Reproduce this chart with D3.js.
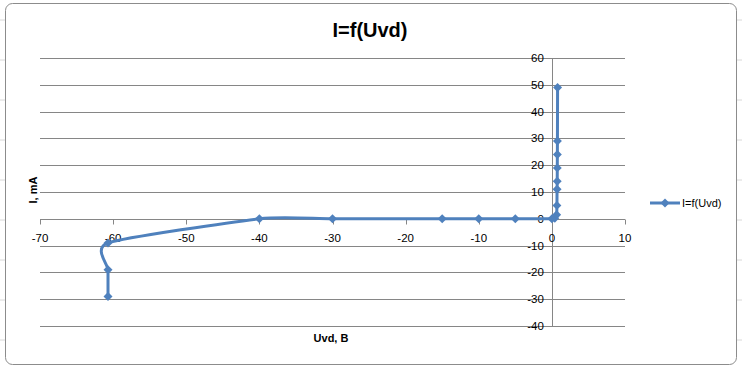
<!DOCTYPE html>
<html>
<head>
<meta charset="utf-8">
<script src="https://cdn.jsdelivr.net/npm/d3@7"></script>
<style>
  body { margin: 0; background: #fff; }
  text { font-family: "Liberation Sans", Arial, sans-serif; }
</style>
</head>
<body>
<div id="chart"></div>
<script>
// data (Uvd in B, I in mA), in series order
const uvd = [0.78, 0.76, 0.75, 0.74, 0.73, 0.71, 0.69, 0.65, 0.4, 0, -5, -10, -15, -30, -40, -60.7, -60.7, -60.7];
const current = [49, 29, 24, 19, 14, 11, 5, 1.5, 0.2, 0, 0, 0, 0, 0, 0, -9, -19, -29];
const xTicks = [-70, -60, -50, -40, -30, -20, -10, 0, 10];
const yTicks = [60, 50, 40, 30, 20, 10, 0, -10, -20, -30, -40];
const seriesName = 'I=f(Uvd)';

const width = 742;
const height = 367;
const blue = '#4F81BD';
const gridColor = '#868686';

const svg = d3.select('#chart')
  .append('svg')
  .attr('width', width)
  .attr('height', height);

// worksheet behind the chart
svg.append('rect')
  .attr('width', width).attr('height', height)
  .attr('fill', '#fff');
[0, 737].forEach(x0 => {
  [20, 60, 100, 140, 180, 220, 260, 300, 340].forEach(y0 => {
    svg.append('line')
      .attr('x1', x0).attr('x2', x0 + 5)
      .attr('y1', y0).attr('y2', y0)
      .attr('stroke', '#d8d8d8');
  });
});

// chart area
svg.append('rect')
  .attr('x', 5.5).attr('y', 3.5)
  .attr('width', 731).attr('height', 361)
  .attr('rx', 7)
  .attr('fill', '#fff')
  .attr('stroke', '#8c8c8c');

const x = d3.scaleLinear().domain([-70, 10]).range([40, 625]);
const y = d3.scaleLinear().domain([-40, 60]).range([326, 58]);

// horizontal gridlines
svg.append('g')
  .selectAll('line')
  .data(yTicks)
  .enter()
  .append('line')
  .attr('x1', x(-70)).attr('x2', x(10))
  .attr('y1', d => Math.round(y(d)) + 0.5)
  .attr('y2', d => Math.round(y(d)) + 0.5)
  .attr('stroke', gridColor);

// vertical axis at x = 0
const x0 = Math.round(x(0)) + 0.5;
svg.append('line')
  .attr('x1', x0).attr('x2', x0)
  .attr('y1', y(60)).attr('y2', y(-40))
  .attr('stroke', gridColor);

// x tick marks along y = 0
const yZero = Math.round(y(0)) + 0.5;
svg.append('g')
  .selectAll('line')
  .data(xTicks)
  .enter()
  .append('line')
  .attr('x1', d => Math.round(x(d)) + 0.5)
  .attr('x2', d => Math.round(x(d)) + 0.5)
  .attr('y1', yZero).attr('y2', yZero + 5)
  .attr('stroke', gridColor);

// y tick marks
svg.append('g')
  .selectAll('line')
  .data(yTicks)
  .enter()
  .append('line')
  .attr('x1', x0 - 5).attr('x2', x0)
  .attr('y1', d => Math.round(y(d)) + 0.5)
  .attr('y2', d => Math.round(y(d)) + 0.5)
  .attr('stroke', gridColor);

// tick labels
svg.append('g')
  .selectAll('text')
  .data(xTicks)
  .enter()
  .append('text')
  .attr('x', d => x(d))
  .attr('y', y(0) + 23)
  .attr('text-anchor', 'middle')
  .style('font-size', '11.5px')
  .text(d => d);

svg.append('g')
  .selectAll('text')
  .data(yTicks)
  .enter()
  .append('text')
  .attr('x', x(0) - 8)
  .attr('y', d => y(d) + 4)
  .attr('text-anchor', 'end')
  .style('font-size', '11.5px')
  .text(d => d);

// titles
svg.append('text')
  .attr('x', 370).attr('y', 37)
  .attr('text-anchor', 'middle')
  .style('font-size', '20px')
  .style('font-weight', 'bold')
  .text(seriesName);

svg.append('text')
  .attr('x', 331).attr('y', 342)
  .attr('text-anchor', 'middle')
  .style('font-size', '11px')
  .style('font-weight', 'bold')
  .text('Uvd, B');

svg.append('text')
  .attr('transform', 'translate(37,190) rotate(-90)')
  .attr('text-anchor', 'middle')
  .style('font-size', '11px')
  .style('font-weight', 'bold')
  .text('I, mA');

// series
const points = uvd.map((u, i) => ({ u: u, i: current[i] }));

// smoothed line like the spreadsheet's
const line = d3.line()
  .x(d => x(d.u))
  .y(d => y(d.i))
  .curve(d3.curveCardinal.tension(0.4));

svg.append('path')
  .datum(points)
  .attr('d', line)
  .attr('fill', 'none')
  .attr('stroke', blue)
  .attr('stroke-width', 3)
  .attr('stroke-linejoin', 'round');

const marker = d3.symbol().type(d3.symbolSquare).size(40);

svg.append('g')
  .selectAll('path')
  .data(points)
  .enter()
  .append('path')
  .attr('transform', d => `translate(${x(d.u)},${y(d.i)}) rotate(45)`)
  .attr('d', marker)
  .attr('fill', blue);

// legend
const legend = svg.append('g').attr('transform', 'translate(650,203)');
legend.append('line')
  .attr('x1', 0).attr('x2', 30)
  .attr('stroke', blue)
  .attr('stroke-width', 3);
legend.append('path')
  .attr('transform', 'translate(15,0) rotate(45)')
  .attr('d', marker)
  .attr('fill', blue);
legend.append('text')
  .attr('x', 32).attr('y', 4)
  .style('font-size', '11px')
  .text(seriesName);
</script>
</body>
</html>
